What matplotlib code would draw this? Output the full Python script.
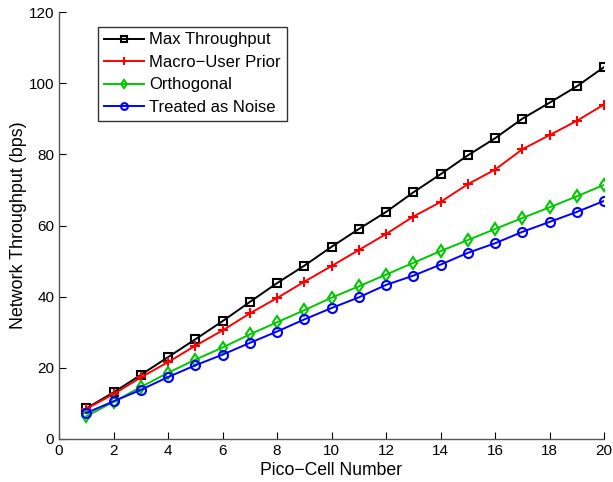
import matplotlib.pyplot as plt

plt.rcParams['font.family'] = ['Liberation Sans', 'DejaVu Sans']

# Data
cells = list(range(1, 21))
max_throughput = [8.6, 13.1, 18.0, 23.0, 28.0, 33.1, 38.5, 43.8, 48.7, 54.0,
                  59.0, 63.8, 69.3, 74.4, 79.7, 84.5, 90.0, 94.5, 99.1, 104.5]
macro_user_prior = [8.5, 12.6, 17.3, 21.6, 26.2, 30.5, 35.3, 39.6, 44.2, 48.6,
                    53.1, 57.6, 62.5, 66.6, 71.6, 75.7, 81.4, 85.4, 89.4, 94.0]
orthogonal = [6.4, 10.4, 14.6, 18.6, 22.3, 25.7, 29.4, 32.8, 36.2, 39.7,
              42.9, 46.2, 49.5, 52.8, 55.9, 59.0, 62.1, 65.1, 68.2, 71.4]
treated_as_noise = [7.3, 10.6, 13.8, 17.4, 20.7, 23.7, 27.0, 30.2, 33.6, 36.8,
                    39.8, 43.3, 45.9, 49.0, 52.3, 55.0, 58.2, 61.0, 63.8, 66.9]

fig = plt.figure(figsize=(6.13, 4.82), dpi=100)
ax = fig.add_axes([59 / 613, 1 - 439 / 482, 545 / 613, 427 / 482])

series = [
    ("Max Throughput", max_throughput, "black", "s", 5.5),
    ("Macro\u2212User Prior", macro_user_prior, "red", "+", 7),
    ("Orthogonal", orthogonal, "#00c800", "d", 6),
    ("Treated as Noise", treated_as_noise, "#0000ff", "o", 6.5),
]
for label, vals, color, marker, ms in series:
    ax.plot(cells, vals, color=color, marker=marker, markersize=ms,
            markerfacecolor="none", markeredgewidth=1.5, linewidth=1.4, label=label)

ax.set_xlim(0, 20)
ax.set_ylim(0, 120)
ax.set_xticks(range(0, 21, 2))
ax.set_yticks(range(0, 121, 20))
ax.spines["top"].set_visible(False)
ax.spines["right"].set_visible(False)
for s in ("left", "bottom"):
    ax.spines[s].set_color("#555555")
    ax.spines[s].set_linewidth(1.0)
ax.tick_params(direction="in", length=5, labelsize=11, color="black")
ax.set_xlabel("Pico\u2212Cell Number", fontsize=12.7, labelpad=3)
ax.set_ylabel("Network Throughput (bps)", fontsize=12.9, labelpad=1)

leg = ax.legend(loc="upper left", bbox_to_anchor=(0.072, 0.966), fontsize=12,
                frameon=True, fancybox=False, edgecolor="black", handlelength=2.4,
                handletextpad=0.3, borderpad=0.35, labelspacing=0.45, markerscale=0.75,
                borderaxespad=0)
leg.get_frame().set_linewidth(1.0)

fig.savefig("out.png", dpi=100)
